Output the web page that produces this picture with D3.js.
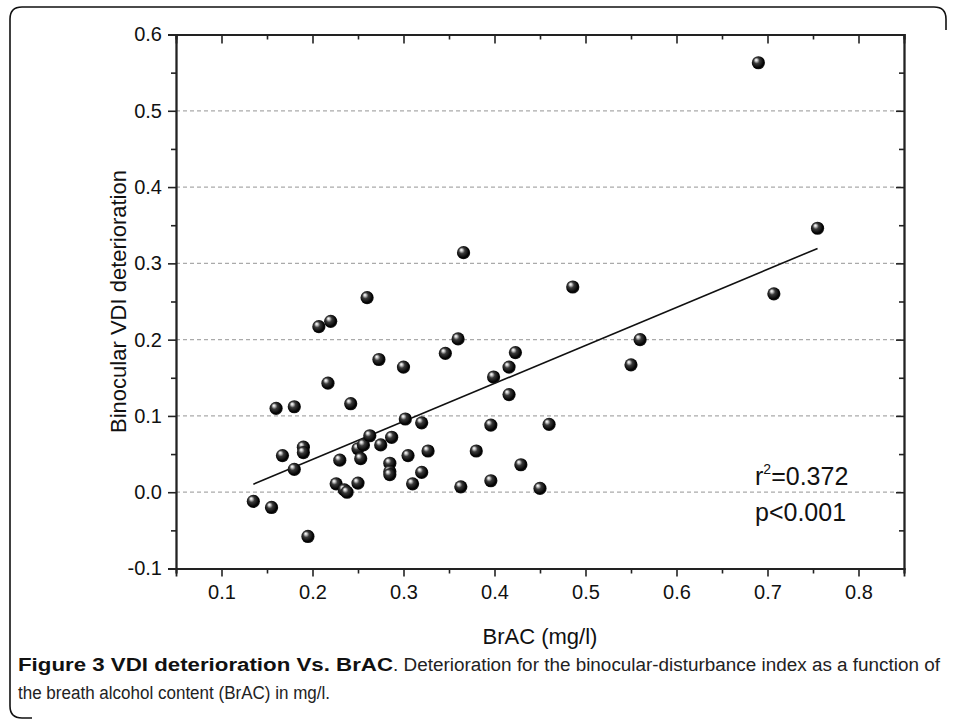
<!DOCTYPE html>
<html>
<head>
<meta charset="utf-8">
<script src="https://cdn.jsdelivr.net/npm/d3@7"></script>
<style>
  body { margin: 0; background: #fff; }
  text { font-family: "Liberation Sans", Arial, sans-serif; }
</style>
</head>
<body>
<script>
// data
const brac = [0.135, 0.155, 0.160, 0.167, 0.180, 0.180, 0.190, 0.190, 0.195, 0.207,
              0.217, 0.220, 0.226, 0.230, 0.235, 0.238, 0.242, 0.250, 0.250, 0.253,
              0.256, 0.260, 0.263, 0.273, 0.275, 0.285, 0.285, 0.285, 0.287, 0.300,
              0.302, 0.305, 0.310, 0.320, 0.320, 0.327, 0.346, 0.360, 0.363, 0.366,
              0.380, 0.396, 0.396, 0.399, 0.416, 0.416, 0.423, 0.429, 0.450, 0.460,
              0.486, 0.550, 0.560, 0.690, 0.707, 0.755];
const vdi  = [-0.012, -0.020, 0.110, 0.048, 0.112, 0.030, 0.059, 0.052, -0.058, 0.217,
              0.143, 0.224, 0.011, 0.042, 0.003, 0.000, 0.116, 0.057, 0.012, 0.044,
              0.062, 0.255, 0.074, 0.174, 0.062, 0.038, 0.027, 0.023, 0.072, 0.164,
              0.096, 0.048, 0.011, 0.091, 0.026, 0.054, 0.182, 0.201, 0.007, 0.314,
              0.054, 0.088, 0.015, 0.151, 0.164, 0.128, 0.183, 0.036, 0.005, 0.089,
              0.269, 0.167, 0.200, 0.563, 0.260, 0.346];

// linear fit as drawn
const fitSlope = 0.4985, fitIntercept = -0.0568;
const stats = ["=0.372", "p<0.001"];

const xMajor = [0.1, 0.2, 0.3, 0.4, 0.5, 0.6, 0.7, 0.8];
const xMinor = [0.05, 0.15, 0.25, 0.35, 0.45, 0.55, 0.65, 0.75, 0.85];
const yMajor = [-0.1, 0.0, 0.1, 0.2, 0.3, 0.4, 0.5, 0.6];
const yMinor = [-0.05, 0.05, 0.15, 0.25, 0.35, 0.45, 0.55];
const yGrid = [0.0, 0.1, 0.2, 0.3, 0.4, 0.5];

const W = 957, H = 721;
const svg = d3.select('body').append('svg')
    .attr('width', W)
    .attr('height', H);

// plot box
const pL = 176, pR = 904, pT = 34.5, pB = 568.5;

const x = d3.scaleLinear().domain([0.05, 0.85]).range([pL, pR]);
const y = d3.scaleLinear().domain([-0.1, 0.6]).range([pB, pT]);

// sphere look for the markers
const grad = svg.append('defs').append('radialGradient')
    .attr('id', 'ball')
    .attr('cx', '45%').attr('cy', '45%').attr('r', '60%')
    .attr('fx', '32%').attr('fy', '28%');
grad.append('stop').attr('offset', '0%').attr('stop-color', '#ffffff');
grad.append('stop').attr('offset', '14%').attr('stop-color', '#d0d0d0');
grad.append('stop').attr('offset', '38%').attr('stop-color', '#3a3a3a');
grad.append('stop').attr('offset', '80%').attr('stop-color', '#000000');
grad.append('stop').attr('offset', '100%').attr('stop-color', '#2a2a2a');

// frame around the figure
svg.append('path')
    .attr('d', 'M32,718 L22,718 Q10,718 10,706 L10,19 Q10,7 22,7 L934,7 Q946,7 946,19 L946,30')
    .attr('fill', 'none')
    .attr('stroke', '#111')
    .attr('stroke-width', 1.6);

// grid
svg.append('g').selectAll('line')
    .data(yGrid)
    .enter().append('line')
    .attr('x1', pL).attr('x2', pR)
    .attr('y1', d => y(d)).attr('y2', d => y(d))
    .attr('stroke', '#aaa')
    .attr('stroke-width', 1.2)
    .attr('stroke-dasharray', '4,3');

// axes: bottom/left outward, top/right inward
function styleAxis(g) {
    g.selectAll('.domain').attr('stroke', '#222').attr('stroke-width', 1.8);
    g.selectAll('.tick line').attr('stroke', '#222').attr('stroke-width', 1.6);
    g.selectAll('text').attr('font-size', 20).attr('fill', '#111')
        .attr('font-family', '"Liberation Sans", Arial, sans-serif');
}
const fmt = d => d3.format('.1f')(d).replace('\u2212', '-');

svg.append('g').attr('transform', `translate(0,${pB})`)
    .call(d3.axisBottom(x).tickValues(xMajor).tickSize(8).tickPadding(8).tickFormat(fmt))
    .call(styleAxis);
svg.append('g').attr('transform', `translate(0,${pB})`)
    .call(d3.axisBottom(x).tickValues(xMinor).tickSize(5).tickFormat(''))
    .call(styleAxis);

svg.append('g').attr('transform', `translate(0,${pT})`)
    .call(d3.axisBottom(x).tickValues(xMajor).tickSize(9).tickFormat(''))
    .call(styleAxis);
svg.append('g').attr('transform', `translate(0,${pT})`)
    .call(d3.axisBottom(x).tickValues(xMinor).tickSize(5).tickFormat(''))
    .call(styleAxis);

svg.append('g').attr('transform', `translate(${pL},0)`)
    .call(d3.axisLeft(y).tickValues(yMajor).tickSize(8).tickPadding(6).tickFormat(fmt))
    .call(styleAxis);
svg.append('g').attr('transform', `translate(${pL},0)`)
    .call(d3.axisLeft(y).tickValues(yMinor).tickSize(5).tickFormat(''))
    .call(styleAxis);

svg.append('g').attr('transform', `translate(${pR},0)`)
    .call(d3.axisLeft(y).tickValues(yMajor).tickSize(8).tickFormat(''))
    .call(styleAxis);
svg.append('g').attr('transform', `translate(${pR},0)`)
    .call(d3.axisLeft(y).tickValues(yMinor).tickSize(5).tickFormat(''))
    .call(styleAxis);

// regression line over the data range
const xr = d3.extent(brac);
svg.append('line')
    .attr('x1', x(xr[0])).attr('y1', y(fitIntercept + fitSlope * xr[0]))
    .attr('x2', x(xr[1])).attr('y2', y(fitIntercept + fitSlope * xr[1]))
    .attr('stroke', '#111')
    .attr('stroke-width', 1.6);

// points
svg.append('g').selectAll('circle')
    .data(brac)
    .enter().append('circle')
    .attr('cx', d => x(d))
    .attr('cy', (d, i) => y(vdi[i]))
    .attr('r', 6.6)
    .attr('fill', 'url(#ball)');

// r^2 and p
const st = svg.append('text')
    .attr('x', 755).attr('y', 485)
    .attr('font-size', 25).attr('fill', '#111');
st.append('tspan').text('r');
st.append('tspan').attr('font-size', 14).attr('dy', -11).text('2');
st.append('tspan').attr('dy', 11).text(stats[0]);
svg.append('text')
    .attr('x', 755).attr('y', 521)
    .attr('font-size', 25).attr('fill', '#111')
    .text(stats[1]);

// axis titles
svg.append('text')
    .attr('x', (pL + pR) / 2).attr('y', 644)
    .attr('text-anchor', 'middle')
    .attr('font-size', 22).attr('fill', '#111')
    .text('BrAC (mg/l)');
svg.append('text')
    .attr('transform', `translate(126,${(pT + pB) / 2}) rotate(-90)`)
    .attr('text-anchor', 'middle')
    .attr('font-size', 22).attr('fill', '#111')
    .text('Binocular VDI deterioration');

// caption
const capFont = '"Liberation Sans Narrow", "DejaVu Sans Condensed", sans-serif';
const cap = svg.append('text')
    .attr('x', 18).attr('y', 671)
    .attr('font-size', 18).attr('fill', '#222')
    .attr('font-family', capFont);
cap.append('tspan').attr('font-weight', 'bold').attr('fill', '#111')
    .attr('textLength', 375).attr('lengthAdjust', 'spacingAndGlyphs')
    .text('Figure 3 VDI deterioration Vs. BrAC');
cap.append('tspan')
    .attr('textLength', 547).attr('lengthAdjust', 'spacingAndGlyphs')
    .text('. Deterioration for the binocular-disturbance index as a function of');

svg.append('text')
    .attr('x', 18).attr('y', 699)
    .attr('font-size', 18).attr('fill', '#222')
    .attr('font-family', capFont)
    .attr('textLength', 312).attr('lengthAdjust', 'spacingAndGlyphs')
    .text('the breath alcohol content (BrAC) in mg/l.');
</script>
</body>
</html>
